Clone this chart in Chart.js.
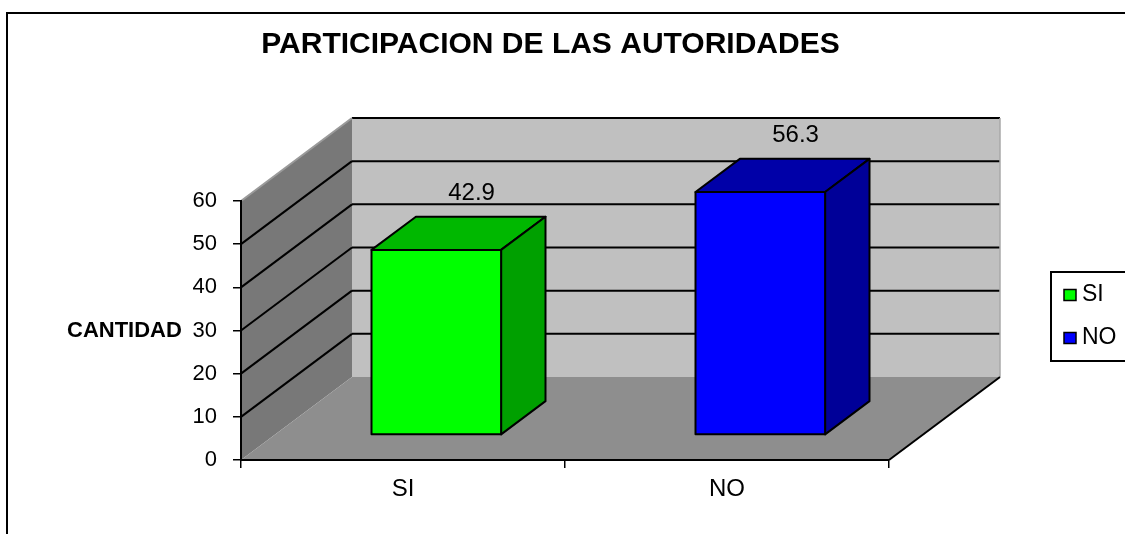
<!DOCTYPE html>
<html>
<head>
<meta charset="utf-8">
<script src="https://cdn.jsdelivr.net/npm/chart.js@4.4.1/dist/chart.umd.min.js"></script>
<style>
html, body { margin: 0; padding: 0; background: #fff; }
#wrap { width: 1125px; height: 534px; position: relative; }
</style>
</head>
<body>
<div id="wrap"><canvas id="chart"></canvas></div>
<script>
const categories = ['SI', 'NO'];
const values = [42.9, 56.3];
const yMin = 0, yMax = 60, yStep = 10;
const frontColors = ['#00FF00', '#0000FF'];
const topColors = ['#00B800', '#0000A8'];
const sideColors = ['#00A000', '#000098'];
const titleText = 'PARTICIPACION DE LAS AUTORIDADES';
const axisTitle = 'CANTIDAD';

const FONT = "'Liberation Sans', Arial, sans-serif";
const DEPTH_X = 111, DEPTH_Y = -83; // full depth of the floor
const BAR_FRONT = 0.3, BAR_DEPTH = 0.4; // bars sit in the middle of the depth

function poly(ctx, pts, fill, stroke, lw) {
    ctx.beginPath();
    ctx.moveTo(pts[0][0], pts[0][1]);
    for (let i = 1; i < pts.length; i++) ctx.lineTo(pts[i][0], pts[i][1]);
    ctx.closePath();
    if (fill) { ctx.fillStyle = fill; ctx.fill(); }
    if (stroke) { ctx.strokeStyle = stroke; ctx.lineWidth = lw || 1; ctx.stroke(); }
}

const walls3d = {
    id: 'walls3d',
    beforeDraw(chart) {
        const { ctx, chartArea: a, scales: { y } } = chart;
        const x0 = a.left, x1 = a.right;
        const yt = y.getPixelForValue(yMax), yb = y.getPixelForValue(yMin);
        ctx.save();
        // outer frame (runs off the right/bottom edge)
        ctx.strokeStyle = '#000';
        ctx.lineWidth = 2;
        ctx.strokeRect(7, 13, 1300, 700);

        // back wall, side wall, floor
        poly(ctx, [[x0 + DEPTH_X, yt + DEPTH_Y], [x1 + DEPTH_X, yt + DEPTH_Y], [x1 + DEPTH_X, yb + DEPTH_Y], [x0 + DEPTH_X, yb + DEPTH_Y]], '#C0C0C0');
        poly(ctx, [[x0, yt], [x0 + DEPTH_X, yt + DEPTH_Y], [x0 + DEPTH_X, yb + DEPTH_Y], [x0, yb]], '#787878');
        poly(ctx, [[x0, yb], [x0 + DEPTH_X, yb + DEPTH_Y], [x1 + DEPTH_X, yb + DEPTH_Y], [x1, yb]], '#8E8E8E');

        // gridlines on back and side walls
        ctx.lineWidth = 2;
        for (let v = yMin + yStep; v <= yMax; v += yStep) {
            const py = y.getPixelForValue(v);
            ctx.strokeStyle = '#000';
            ctx.beginPath();
            ctx.moveTo(x0 + DEPTH_X, py + DEPTH_Y);
            ctx.lineTo(x1 + DEPTH_X, py + DEPTH_Y);
            ctx.stroke();
            ctx.strokeStyle = v === yMax ? '#9a9a9a' : '#000';
            ctx.beginPath();
            ctx.moveTo(x0, py);
            ctx.lineTo(x0 + DEPTH_X, py + DEPTH_Y);
            ctx.stroke();
        }
        // right edge of the back wall and of the floor
        ctx.strokeStyle = '#a8a8a8';
        ctx.lineWidth = 1.5;
        ctx.beginPath();
        ctx.moveTo(x1 + DEPTH_X, yt + DEPTH_Y);
        ctx.lineTo(x1 + DEPTH_X, yb + DEPTH_Y);
        ctx.stroke();
        ctx.strokeStyle = '#000';
        ctx.lineWidth = 2;
        ctx.beginPath();
        ctx.moveTo(x1, yb);
        ctx.lineTo(x1 + DEPTH_X, yb + DEPTH_Y);
        ctx.stroke();

        // horizontal axis title, left of the ticks
        ctx.fillStyle = '#000';
        ctx.font = 'bold 22px ' + FONT;
        ctx.textAlign = 'left';
        ctx.textBaseline = 'middle';
        ctx.fillText(axisTitle, 67, y.getPixelForValue(30));

        // legend
        ctx.lineWidth = 2;
        ctx.strokeStyle = '#000';
        ctx.strokeRect(1051, 272, 120, 89);
        ctx.font = '23px ' + FONT;
        categories.forEach((c, i) => {
            const cy = 295 + i * 43;
            ctx.fillStyle = frontColors[i];
            ctx.fillRect(1064, cy - 5.5, 12, 11);
            ctx.lineWidth = 1.5;
            ctx.strokeRect(1064, cy - 5.5, 12, 11);
            ctx.fillStyle = '#000';
            ctx.fillText(c, 1082, cy);
        });
        ctx.restore();
    },
    beforeDatasetDraw() {
        return false; // bars are drawn as boxes below
    },
    afterDatasetsDraw(chart) {
        const ctx = chart.ctx;
        const meta = chart.getDatasetMeta(0);
        ctx.save();
        ctx.lineJoin = 'round';
        meta.data.forEach((el, i) => {
            const p = el.getProps(['x', 'y', 'base', 'width'], true);
            const L = p.x - p.width / 2 + BAR_FRONT * DEPTH_X;
            const R = p.x + p.width / 2 + BAR_FRONT * DEPTH_X;
            const T = p.y + BAR_FRONT * DEPTH_Y;
            const B = p.base + BAR_FRONT * DEPTH_Y;
            const dx = BAR_DEPTH * DEPTH_X, dy = BAR_DEPTH * DEPTH_Y;
            poly(ctx, [[L, T], [R, T], [R + dx, T + dy], [L + dx, T + dy]], topColors[i], '#000', 2);
            poly(ctx, [[R, T], [R + dx, T + dy], [R + dx, B + dy], [R, B]], sideColors[i], '#000', 2);
            poly(ctx, [[L, T], [R, T], [R, B], [L, B]], frontColors[i], '#000', 2);

            ctx.fillStyle = '#000';
            ctx.font = '24px ' + FONT;
            ctx.textAlign = 'center';
            ctx.textBaseline = 'middle';
            ctx.fillText(String(values[i]), p.x + 0.6 * DEPTH_X + 2, p.y + 0.6 * DEPTH_Y - 32);
        });
        ctx.restore();
    }
};

new Chart(document.getElementById('chart'), {
    type: 'bar',
    data: {
        labels: categories,
        datasets: [{
            label: axisTitle,
            data: values,
            backgroundColor: frontColors,
            barPercentage: 0.4,
            categoryPercentage: 1
        }]
    },
    options: {
        responsive: true,
        maintainAspectRatio: false,
        animation: false,
        layout: { padding: { left: 0, right: 24, top: 0, bottom: 0 } },
        plugins: {
            legend: { display: false },
            tooltip: { enabled: false },
            title: {
                display: true,
                text: titleText,
                color: '#000',
                font: { family: FONT, size: 30, weight: 'bold' },
                padding: { top: 27, bottom: 138 }
            }
        },
        scales: {
            x: {
                grid: { drawOnChartArea: false, tickLength: 8, color: '#000', lineWidth: 1.5 },
                border: { color: '#000', width: 2 },
                ticks: { color: '#000', font: { family: FONT, size: 24 }, padding: 7 },
                afterFit(s) { s.height = 74; }
            },
            y: {
                min: yMin,
                max: yMax,
                ticks: { stepSize: yStep, color: '#000', font: { family: FONT, size: 22 }, padding: 16 },
                grid: { drawOnChartArea: false, tickLength: 8, color: '#000', lineWidth: 1.5 },
                border: { color: '#000', width: 2 },
                afterFit(s) { s.width = 241; }
            },
            // empty axis that keeps room on the right for the 3D depth and the legend
            spacer: {
                type: 'linear',
                position: 'right',
                ticks: { display: false },
                grid: { display: false },
                border: { display: false },
                afterFit(s) { s.width = 212; }
            }
        }
    },
    plugins: [walls3d]
});
</script>
</body>
</html>
